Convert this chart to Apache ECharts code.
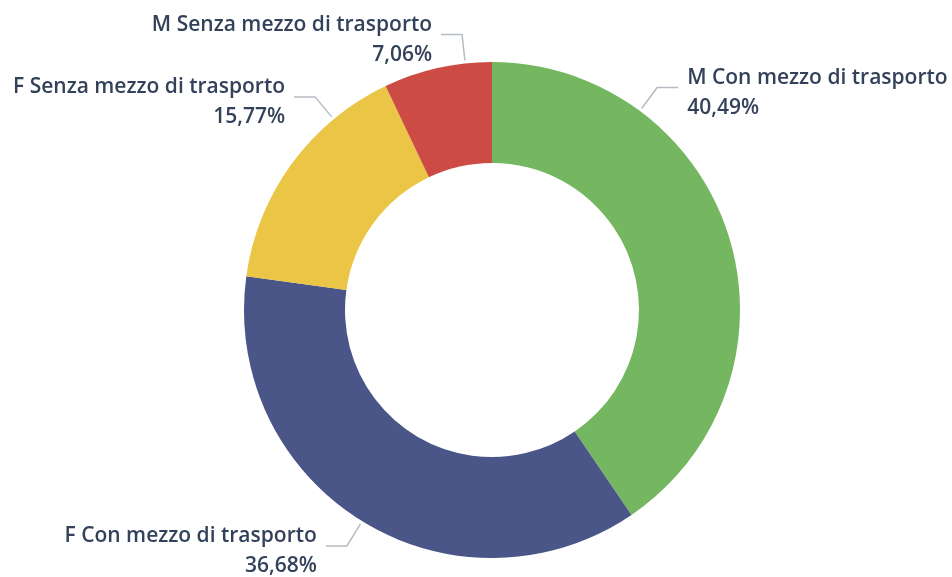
<!DOCTYPE html>
<html>
<head>
<meta charset="utf-8">
<script src="https://cdn.jsdelivr.net/npm/echarts@6/dist/echarts.min.js"></script>
<style>
  html, body { margin: 0; padding: 0; background: #ffffff; }
  #chart { width: 952px; height: 577px; }
</style>
</head>
<body>
<div id="chart"></div>
<script>
// Ripartizione per sesso e uso del mezzo di trasporto (%)
const categories = [
  'M Con mezzo di trasporto',
  'F Con mezzo di trasporto',
  'F Senza mezzo di trasporto',
  'M Senza mezzo di trasporto'
];
const shares = [40.49, 36.68, 15.77, 7.06];
const colors = ['#74b760', '#4a5688', '#ebc545', '#cc4b45'];

// Ring geometry (px) and where each label leader leaves the ring,
// in degrees clockwise from 12 o'clock.
const CX = 492, CY = 310, R_IN = 147, R_OUT = 248;
const leaderAngle = [36.6, 211.6, -39.7, -6.2];

const chart = echarts.init(document.getElementById('chart'));

chart.setOption({
  animation: false,
  backgroundColor: '#ffffff',
  series: [{
    type: 'pie',
    center: [CX, CY],
    radius: [R_IN, R_OUT],
    startAngle: 90,
    clockwise: true,
    avoidLabelOverlap: false,
    label: {
      show: true,
      position: 'outside',
      color: '#33425a',
      fontFamily: 'Open Sans',
      fontWeight: 600,
      fontSize: 21,
      lineHeight: 30,
      formatter: p => p.name + '\n' + p.value.toFixed(2).replace('.', ',') + '%'
    },
    labelLine: {
      show: true,
      lineStyle: { color: '#b6bcc4', width: 1.5 }
    },
    labelLayout: function (params) {
      const a = leaderAngle[params.dataIndex] * Math.PI / 180;
      const s = Math.sin(a), c = Math.cos(a);
      const p0 = [CX + (R_OUT + 3) * s, CY - (R_OUT + 3) * c];
      const p1 = [CX + (R_OUT + 29) * s, CY - (R_OUT + 29) * c];
      const right = s >= 0;
      const p2 = [p1[0] + (right ? 21 : -21), p1[1]];
      return {
        x: p2[0] + (right ? 9 : -9),
        y: p1[1] + 5,
        align: right ? 'left' : 'right',
        verticalAlign: 'middle',
        labelLinePoints: [p0, p1, p2]
      };
    },
    data: categories.map((name, i) => ({
      name: name,
      value: shares[i],
      itemStyle: { color: colors[i] }
    }))
  }]
});
</script>
</body>
</html>
